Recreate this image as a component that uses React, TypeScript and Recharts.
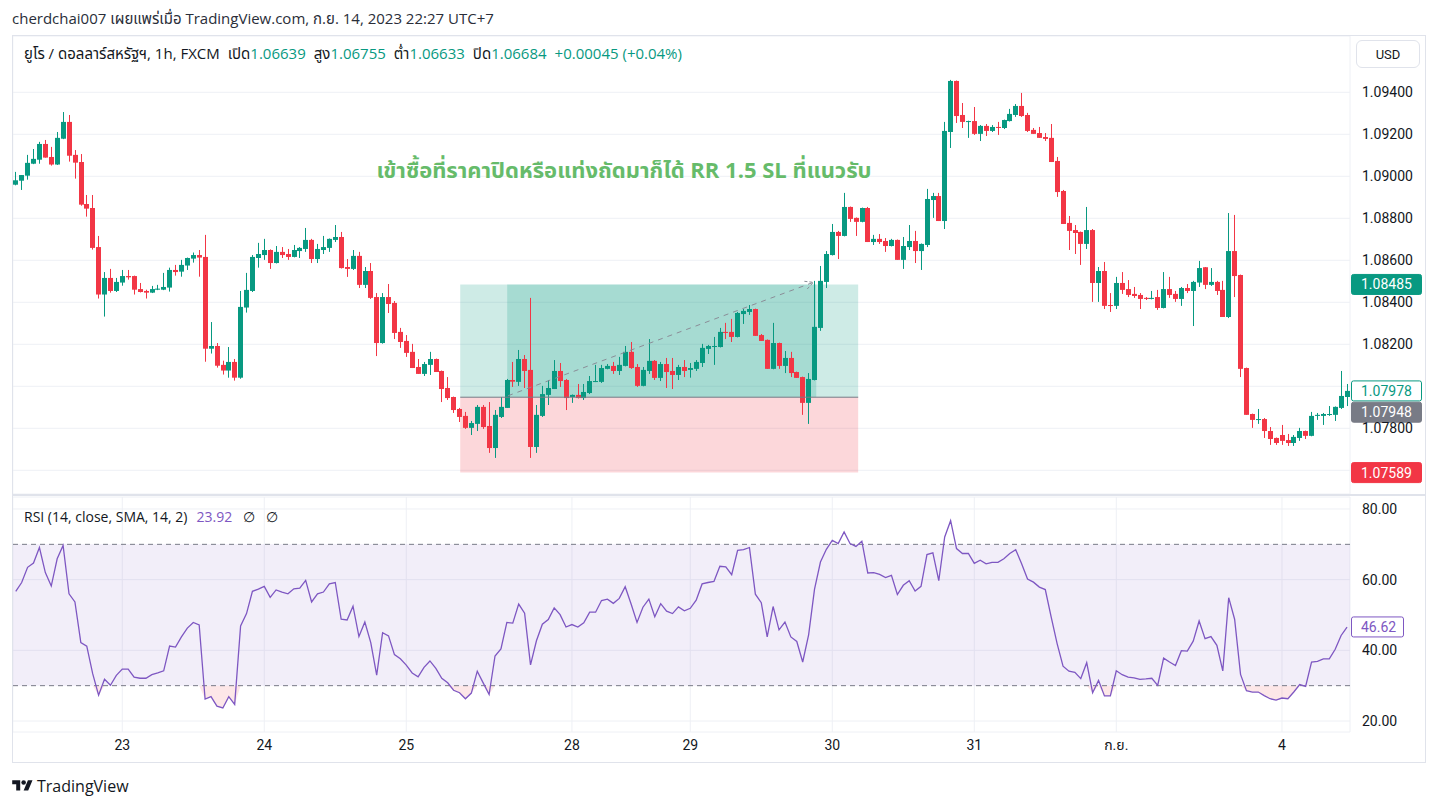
import React from 'react';
import { ComposedChart, Bar, Line, Area, XAxis, YAxis, ReferenceLine, ReferenceArea, CartesianGrid } from 'recharts';

const FONT = 'Roboto, "Noto Sans", "Noto Sans Thai", "DejaVu Sans", sans-serif';
const FONT_UI = '"Open Sans", Roboto, "Noto Sans", "Noto Sans Thai", sans-serif';
const GREEN = '#089981';
const RED = '#f23645';
const GRID = '#eef0f5';
const TEXT = '#131722';
const PURPLE = '#7e57c2';

const OPEN = [1.08960,1.08979,1.09003,1.09060,1.09079,1.09154,1.09092,1.09056,1.09179,1.09259,
1.09102,1.09068,1.08868,1.08849,1.08663,1.08437,1.08516,1.08454,1.08494,1.08525,
1.08525,1.08463,1.08454,1.08446,1.08460,1.08460,1.08470,1.08554,1.08546,1.08575,
1.08608,1.08625,1.08616,1.08179,1.08192,1.08102,1.08075,1.08116,1.08041,1.08375,
1.08454,1.08611,1.08625,1.08649,1.08587,1.08640,1.08630,1.08616,1.08644,1.08654,
1.08697,1.08606,1.08649,1.08659,1.08697,1.08711,1.08568,1.08559,1.08621,1.08483,
1.08549,1.08425,1.08206,1.08425,1.08397,1.08259,1.08216,1.08164,1.08092,1.08059,
1.08102,1.08130,1.08073,1.07992,1.07949,1.07892,1.07859,1.07802,1.07821,1.07902,
1.07811,1.07706,1.07854,1.07897,1.08030,1.08021,1.08130,1.08078,1.07711,1.07859,
1.07959,1.07987,1.08073,1.08030,1.07949,1.07959,1.07944,1.07968,1.08022,1.08021,
1.08083,1.08097,1.08073,1.08097,1.08164,1.08092,1.08002,1.08073,1.08121,1.08040,
1.08106,1.08073,1.08054,1.08092,1.08078,1.08083,1.08111,1.08178,1.08187,1.08187,
1.08259,1.08259,1.08235,1.08344,1.08354,1.08368,1.08244,1.08221,1.08083,1.08206,
1.08097,1.08135,1.08068,1.08044,1.07921,1.08030,1.08278,1.08497,1.08625,1.08735,
1.08716,1.08854,1.08802,1.08783,1.08849,1.08687,1.08702,1.08692,1.08668,1.08697,
1.08602,1.08663,1.08692,1.08644,1.08673,1.08887,1.08906,1.08787,1.09211,1.09454,
1.09292,1.09259,1.09263,1.09202,1.09240,1.09216,1.09235,1.09230,1.09263,1.09292,
1.09335,1.09292,1.09221,1.09206,1.09187,1.09183,1.09073,1.08930,1.08778,1.08744,
1.08735,1.08678,1.08744,1.08492,1.08549,1.08387,1.08383,1.08492,1.08463,1.08440,
1.08435,1.08421,1.08416,1.08425,1.08373,1.08463,1.08440,1.08416,1.08468,1.08454,
1.08494,1.08567,1.08483,1.08497,1.08459,1.08330,1.08644,1.08530,1.08087,1.07868,
1.07840,1.07844,1.07787,1.07754,1.07768,1.07744,1.07730,1.07754,1.07787,1.07764,
1.07859,1.07859,1.07864,1.07864,1.07897,1.07949];

const HIGH = [1.09021,1.09006,1.09102,1.09130,1.09164,1.09173,1.09140,1.09211,1.09306,1.09292,
1.09125,1.09106,1.08911,1.08911,1.08716,1.08544,1.08559,1.08516,1.08554,1.08554,
1.08527,1.08492,1.08460,1.08478,1.08483,1.08540,1.08565,1.08578,1.08602,1.08613,
1.08637,1.08649,1.08721,1.08306,1.08206,1.08122,1.08187,1.08130,1.08454,1.08540,
1.08625,1.08683,1.08702,1.08652,1.08668,1.08663,1.08654,1.08673,1.08663,1.08754,
1.08702,1.08678,1.08716,1.08704,1.08768,1.08735,1.08606,1.08649,1.08640,1.08568,
1.08587,1.08444,1.08444,1.08487,1.08406,1.08278,1.08244,1.08202,1.08130,1.08116,
1.08164,1.08132,1.08075,1.08044,1.07951,1.07897,1.07878,1.07835,1.07911,1.07911,
1.07925,1.07887,1.07949,1.08035,1.08116,1.08173,1.08149,1.08421,1.07911,1.08002,
1.08030,1.08125,1.08111,1.08035,1.07961,1.08011,1.08011,1.08049,1.08102,1.08102,
1.08106,1.08116,1.08140,1.08192,1.08211,1.08106,1.08092,1.08225,1.08125,1.08116,
1.08135,1.08135,1.08102,1.08125,1.08111,1.08125,1.08202,1.08197,1.08235,1.08278,
1.08302,1.08321,1.08354,1.08368,1.08387,1.08370,1.08249,1.08223,1.08302,1.08208,
1.08168,1.08164,1.08070,1.08046,1.08063,1.08502,1.08573,1.08644,1.08773,1.08740,
1.08921,1.08856,1.08804,1.08851,1.08854,1.08721,1.08725,1.08706,1.08702,1.08699,
1.08711,1.08768,1.08740,1.08680,1.08940,1.08921,1.08921,1.09259,1.09459,1.09456,
1.09349,1.09265,1.09330,1.09244,1.09249,1.09244,1.09259,1.09270,1.09321,1.09344,
1.09397,1.09302,1.09230,1.09235,1.09206,1.09249,1.09092,1.08935,1.08811,1.08768,
1.08737,1.08854,1.08749,1.08568,1.08592,1.08444,1.08521,1.08544,1.08506,1.08473,
1.08444,1.08425,1.08454,1.08459,1.08544,1.08521,1.08454,1.08473,1.08487,1.08502,
1.08597,1.08568,1.08563,1.08502,1.08502,1.08825,1.08816,1.08532,1.08089,1.07870,
1.07892,1.07849,1.07806,1.07756,1.07816,1.07773,1.07768,1.07802,1.07789,1.07878,
1.07873,1.07873,1.07906,1.07904,1.08073,1.08011];

const LOW = [1.08957,1.08935,1.08984,1.09058,1.09060,1.09089,1.09051,1.09054,1.09177,1.09070,
1.08989,1.08860,1.08808,1.08651,1.08418,1.08332,1.08446,1.08449,1.08479,1.08508,
1.08437,1.08447,1.08418,1.08444,1.08458,1.08458,1.08451,1.08527,1.08522,1.08554,
1.08589,1.08522,1.08117,1.08156,1.08089,1.08056,1.08041,1.08027,1.08036,1.08351,
1.08449,1.08565,1.08602,1.08559,1.08585,1.08611,1.08602,1.08614,1.08611,1.08640,
1.08587,1.08587,1.08630,1.08640,1.08687,1.08561,1.08521,1.08554,1.08468,1.08468,
1.08416,1.08144,1.08203,1.08349,1.08225,1.08183,1.08140,1.08087,1.08059,1.08049,
1.08054,1.08068,1.07925,1.07935,1.07873,1.07830,1.07797,1.07768,1.07787,1.07797,
1.07683,1.07659,1.07849,1.07897,1.07997,1.08002,1.07992,1.07659,1.07683,1.07854,
1.07911,1.07987,1.07997,1.07887,1.07921,1.07942,1.07935,1.07963,1.08020,1.08016,
1.08081,1.08059,1.08054,1.08095,1.08083,1.07997,1.08000,1.08059,1.08030,1.08025,
1.07992,1.07987,1.08030,1.08044,1.08041,1.08073,1.08092,1.08154,1.08102,1.08185,
1.08225,1.08211,1.08233,1.08297,1.08340,1.08240,1.08216,1.08083,1.08081,1.08083,
1.08063,1.08044,1.08040,1.07864,1.07821,1.08028,1.08264,1.08468,1.08623,1.08606,
1.08714,1.08783,1.08716,1.08781,1.08687,1.08673,1.08678,1.08640,1.08666,1.08602,
1.08559,1.08649,1.08587,1.08554,1.08663,1.08802,1.08787,1.08749,1.09135,1.09254,
1.09230,1.09183,1.09197,1.09168,1.09192,1.09211,1.09197,1.09225,1.09261,1.09283,
1.09283,1.09211,1.09202,1.09183,1.09168,1.09068,1.08902,1.08773,1.08649,1.08630,
1.08578,1.08654,1.08402,1.08402,1.08368,1.08354,1.08368,1.08440,1.08425,1.08421,
1.08368,1.08411,1.08414,1.08364,1.08371,1.08421,1.08402,1.08383,1.08444,1.08287,
1.08473,1.08463,1.08478,1.08435,1.08330,1.08325,1.08425,1.08044,1.07864,1.07802,
1.07821,1.07754,1.07721,1.07721,1.07721,1.07716,1.07716,1.07740,1.07749,1.07762,
1.07840,1.07816,1.07859,1.07835,1.07892,1.07906];

const CLOSE = [1.08981,1.09006,1.09064,1.09083,1.09154,1.09089,1.09056,1.09183,1.09259,1.09098,
1.09065,1.08865,1.08846,1.08659,1.08437,1.08516,1.08454,1.08497,1.08525,1.08519,
1.08460,1.08449,1.08446,1.08463,1.08465,1.08473,1.08554,1.08544,1.08578,1.08611,
1.08625,1.08613,1.08179,1.08192,1.08098,1.08075,1.08116,1.08041,1.08378,1.08459,
1.08616,1.08630,1.08649,1.08587,1.08640,1.08625,1.08616,1.08649,1.08659,1.08697,
1.08606,1.08654,1.08663,1.08702,1.08711,1.08563,1.08559,1.08621,1.08483,1.08549,
1.08421,1.08206,1.08425,1.08392,1.08254,1.08211,1.08159,1.08087,1.08059,1.08106,
1.08130,1.08068,1.07987,1.07944,1.07887,1.07854,1.07802,1.07825,1.07902,1.07806,
1.07706,1.07864,1.07902,1.08030,1.08022,1.08130,1.08073,1.07711,1.07864,1.07963,
1.07992,1.08073,1.08025,1.07944,1.07959,1.07944,1.07973,1.08025,1.08025,1.08087,
1.08097,1.08073,1.08102,1.08164,1.08087,1.08002,1.08078,1.08121,1.08040,1.08106,
1.08068,1.08054,1.08092,1.08073,1.08087,1.08116,1.08183,1.08192,1.08192,1.08259,
1.08254,1.08235,1.08349,1.08359,1.08368,1.08240,1.08216,1.08083,1.08206,1.08097,
1.08135,1.08063,1.08040,1.07921,1.08035,1.08283,1.08502,1.08630,1.08735,1.08716,
1.08854,1.08797,1.08783,1.08849,1.08687,1.08702,1.08687,1.08668,1.08697,1.08602,
1.08668,1.08692,1.08644,1.08678,1.08892,1.08906,1.08787,1.09216,1.09454,1.09287,
1.09259,1.09263,1.09202,1.09240,1.09216,1.09235,1.09232,1.09268,1.09297,1.09335,
1.09287,1.09216,1.09202,1.09183,1.09178,1.09068,1.08925,1.08773,1.08740,1.08730,
1.08678,1.08744,1.08492,1.08549,1.08383,1.08383,1.08492,1.08459,1.08435,1.08430,
1.08416,1.08416,1.08421,1.08373,1.08463,1.08435,1.08416,1.08468,1.08454,1.08497,
1.08563,1.08483,1.08497,1.08454,1.08330,1.08644,1.08525,1.08083,1.07864,1.07840,
1.07844,1.07787,1.07749,1.07730,1.07740,1.07730,1.07759,1.07787,1.07764,1.07859,
1.07864,1.07868,1.07868,1.07902,1.07954,1.07978];

const RSI = [56.7,59.2,63.5,64.7,69.1,62.0,58.2,65.9,69.7,56.0,
53.7,42.2,41.2,33.4,27.3,31.8,30.1,32.9,34.7,34.7,
32.4,32.1,32.1,33.1,33.6,34.2,41.2,40.9,43.8,46.3,
47.9,47.2,26.2,26.9,24.2,23.7,26.9,24.7,46.9,50.4,
56.7,57.3,58.1,55.0,57.1,56.5,56.0,57.4,57.6,59.8,
53.7,56.0,56.5,58.8,59.2,48.8,48.6,52.5,43.9,48.0,
42.2,33.0,45.0,44.1,38.8,37.6,35.8,33.6,32.5,35.2,
37.0,34.9,32.1,30.8,28.7,28.0,26.3,27.9,34.1,30.8,
27.5,38.4,40.4,47.9,47.7,53.1,50.5,35.9,42.7,47.4,
48.7,52.0,50.1,46.6,47.3,46.6,47.8,50.8,50.8,54.1,
54.5,53.3,54.7,58.0,53.1,47.9,52.2,54.5,49.5,53.2,
51.1,50.4,52.3,51.2,51.9,54.2,58.8,59.2,59.5,63.8,
63.6,61.4,68.3,68.5,69.1,55.9,53.5,43.8,52.4,45.8,
48.0,43.8,42.5,36.7,44.4,57.3,65.0,68.6,71.1,70.2,
73.5,70.2,69.4,70.9,61.9,62.0,61.5,60.6,61.2,55.8,
58.4,59.7,56.8,58.1,67.1,67.6,59.7,72.1,76.7,68.8,
67.4,67.4,64.6,65.5,64.5,64.9,64.9,65.9,67.4,68.5,
64.5,60.2,59.3,57.9,57.2,49.4,41.9,35.5,34.1,33.8,
32.0,36.5,28.0,31.5,27.1,27.1,34.2,33.1,32.4,32.2,
31.8,31.9,32.1,30.1,37.8,36.7,35.7,39.9,39.8,42.6,
48.3,43.3,43.9,41.4,34.2,54.9,48.8,33.2,28.6,28.2,
28.2,27.2,26.3,25.9,26.5,26.3,28.2,30.3,29.8,36.7,
36.9,37.6,37.6,40.3,44.2,46.6];

const TIME_TICKS = [18, 42, 66, 94, 114, 138, 162, 186, 214];
const TIME_LABELS = ['23', '24', '25', '28', '29', '30', '31', 'ก.ย.', '4'];
const PRICE_GRID = [1.076, 1.078, 1.080, 1.082, 1.084, 1.086, 1.088, 1.090, 1.092, 1.094];
const PRICE_LABELS = [1.078, 1.082, 1.084, 1.086, 1.088, 1.090, 1.092, 1.094];
const RSI_TICKS = [20, 40, 60, 80];
const RSI_BANDS = [30, 70];
const PRICE_DOMAIN = [1.074871, 1.096681];
const RSI_DOMAIN = [16.887, 83.396];
const X_DOMAIN = [-0.5, 225.5];

const ENTRY = 1.07948;
const TARGET = 1.08485;
const STOP = 1.07589;
const LAST = 1.07978;
const RSI_LAST = 46.62;
const POS_START = 75.12;
const POS_END = 142.38;
const FILL_START = 83.06;
const FILL_END = 135.29;
const ARROW_FROM = { x: 83.2, y: 1.07955 };
const ARROW_TO = { x: 134.8, y: 1.08495 };

const LEGEND_ITEMS = [
  { label: 'เปิด', value: '1.06639' },
  { label: 'สูง', value: '1.06755' },
  { label: 'ต่ำ', value: '1.06633' },
  { label: 'ปิด', value: '1.06684' },
];

const candles = OPEN.map((o, i) => ({ i, open: o, high: HIGH[i], low: LOW[i], close: CLOSE[i] }));
const rsiData = RSI.map((v, i) => ({ i, rsi: v, os: [Math.min(v, 30), 30] }));

const Candle = (props: any) => {
  const { x, y, width, height, payload } = props;
  if (x == null || y == null || !payload) return null;
  const { open, close, high, low } = payload;
  const top = Math.min(y, y + height);
  const h = Math.abs(height);
  const range = high - low || 1e-9;
  const py = (v: number) => top + ((high - v) / range) * h;
  const cx = Math.round(x + width / 2);
  const color = close >= open ? GREEN : RED;
  const bTop = py(Math.max(open, close));
  const bBot = py(Math.min(open, close));
  const bh = Math.max(1, bBot - bTop);
  return (
    <g>
      <rect x={cx} y={top} width={1} height={Math.max(1, h)} fill={color} />
      <rect x={cx - 2} y={bTop} width={5} height={bh} fill={color} />
    </g>
  );
};

const ArrowShape = (p: any) => {
  const { x1, y1, x2, y2 } = p;
  if (x1 == null) return null;
  const ang = Math.atan2(y2 - y1, x2 - x1);
  const len = 9;
  const a1 = ang + Math.PI * 0.85;
  const a2 = ang - Math.PI * 0.85;
  return (
    <g>
      <line x1={x1} y1={y1} x2={x2} y2={y2} stroke="#8a8d97" strokeWidth={1} strokeDasharray="5 5" />
      <path
        d={`M${x2 + len * Math.cos(a1)},${y2 + len * Math.sin(a1)} L${x2},${y2} L${x2 + len * Math.cos(a2)},${y2 + len * Math.sin(a2)}`}
        stroke="#8a8d97" strokeWidth={1} fill="none" strokeDasharray="3 2"
      />
    </g>
  );
};

const badge = (text: string, bg: string, fg: string, border: string, shift = 0, w = 70) => (props: any) => {
  const vb = props.viewBox || {};
  const right = (vb.x ?? 0) + (vb.width ?? 0);
  const y = (vb.y ?? 0) + shift;
  return (
    <g>
      <rect x={right + 1.5} y={y - 10} width={w} height={20} rx={2} fill={bg} stroke={border} strokeWidth={1} />
      <text x={right + 11} y={y} dy="0.36em" fontSize={14} fill={fg} fontFamily={FONT}>{text}</text>
    </g>
  );
};

const tickStyle = { fontSize: 14, fill: TEXT, fontFamily: FONT };

export default function App() {
  return (
    <div style={{ position: 'absolute', left: 0, top: 0, width: 1439, height: 807, background: '#fff', fontFamily: FONT, overflow: 'hidden', color: TEXT }}>
      <div style={{ position: 'absolute', left: 12, top: 8, fontSize: 15, fontFamily: FONT_UI, color: '#2a2e39', whiteSpace: 'nowrap' }}>
        cherdchai007 เผยแพร่เมื่อ TradingView.com, ก.ย. 14, 2023 22:27 UTC+7
      </div>

      <div style={{ position: 'absolute', left: 12, top: 35 }}>
        <ComposedChart width={1414} height={460} data={candles} margin={{ top: 1, right: 0, bottom: 0, left: 0.8 }}>
          <XAxis
            dataKey="i" type="number" domain={X_DOMAIN} ticks={TIME_TICKS} interval={0} allowDataOverflow
            height={1} tick={false} axisLine={false} tickLine={false}
          />
          <YAxis yAxisId="grid" type="number" domain={PRICE_DOMAIN} ticks={PRICE_GRID} interval={0} hide allowDataOverflow />
          <YAxis
            orientation="right" type="number" domain={PRICE_DOMAIN} allowDataOverflow
            ticks={PRICE_LABELS} interval={0} width={76} axisLine={false} tickLine={false}
            tickSize={0} tickMargin={12} tick={tickStyle} tickFormatter={(v: number) => v.toFixed(5)}
          />
          <CartesianGrid yAxisId="grid" stroke={GRID} strokeWidth={1} />
          <ReferenceArea x1={POS_START} x2={POS_END} y1={ENTRY} y2={TARGET} fill={GREEN} fillOpacity={0.2} stroke="none" />
          <ReferenceArea x1={FILL_START} x2={FILL_END} y1={ENTRY} y2={TARGET} fill={GREEN} fillOpacity={0.2} stroke="none" />
          <ReferenceArea x1={POS_START} x2={POS_END} y1={STOP} y2={ENTRY} fill={RED} fillOpacity={0.2} stroke="none" />
          <ReferenceLine segment={[{ x: POS_START, y: ENTRY }, { x: POS_END, y: ENTRY }]} stroke="#787b86" strokeWidth={1} />
          <Bar dataKey={(d: any) => [d.low, d.high]} shape={(p: any) => <Candle {...p} />} barSize={6} isAnimationActive={false} />
          <ReferenceLine segment={[ARROW_FROM, ARROW_TO]} shape={ArrowShape} />
          <ReferenceLine y={TARGET} stroke="none" label={badge(TARGET.toFixed(5), GREEN, '#ffffff', GREEN)} />
          <ReferenceLine y={LAST} stroke="none" label={badge(LAST.toFixed(5), '#ffffff', GREEN, GREEN)} />
          <ReferenceLine y={ENTRY} stroke="none" label={badge(ENTRY.toFixed(5), '#787b86', '#ffffff', '#787b86', 15)} />
          <ReferenceLine y={STOP} stroke="none" label={badge(STOP.toFixed(5), RED, '#ffffff', RED)} />
        </ComposedChart>
      </div>

      <div style={{ position: 'absolute', left: 12, top: 496 }}>
        <ComposedChart width={1414} height={267} data={rsiData} margin={{ top: 1, right: 0, bottom: 0, left: 0.8 }}>
          <XAxis
            dataKey="i" type="number" domain={X_DOMAIN} allowDataOverflow ticks={TIME_TICKS} interval={0}
            height={31} axisLine={false} tickLine={false} tickSize={0} tickMargin={8} tick={tickStyle}
            tickFormatter={(v: number) => TIME_LABELS[TIME_TICKS.indexOf(v)] ?? ''}
          />
          <YAxis
            orientation="right" type="number" domain={RSI_DOMAIN} allowDataOverflow ticks={RSI_TICKS}
            interval={0} width={76} axisLine={false} tickLine={false} tickSize={0} tickMargin={12}
            tick={tickStyle} tickFormatter={(v: number) => v.toFixed(2)}
          />
          <CartesianGrid stroke={GRID} strokeWidth={1} />
          <ReferenceArea y1={RSI_BANDS[0]} y2={RSI_BANDS[1]} fill={PURPLE} fillOpacity={0.1} stroke="none" />
          {RSI_BANDS.map((b) => <ReferenceLine key={'b' + b} y={b} stroke="#787b86" strokeDasharray="5 4" strokeWidth={1} />)}
          <Area dataKey="os" type="linear" stroke="none" fill={RED} fillOpacity={0.12} isAnimationActive={false} />
          <Line dataKey="rsi" type="linear" stroke={PURPLE} strokeWidth={1.3} dot={false} isAnimationActive={false} />
          <ReferenceLine y={RSI_LAST} stroke="none" label={badge(RSI_LAST.toFixed(2), '#ffffff', PURPLE, PURPLE, 0, 52)} />
        </ComposedChart>
      </div>

      <div style={{ position: 'absolute', left: 12, top: 35, width: 1414, height: 728, border: '1px solid #e0e3eb', boxSizing: 'border-box', pointerEvents: 'none' }} />
      <div style={{ position: 'absolute', left: 12, top: 494, width: 1414, height: 2, background: '#e0e3eb' }} />

      <div style={{ position: 'absolute', left: 24, top: 43, fontSize: 15, fontFamily: FONT_UI, whiteSpace: 'nowrap', color: TEXT }}>
        <span>ยูโร / ดอลลาร์สหรัฐฯ, 1h, FXCM</span>
        {LEGEND_ITEMS.map((it) => (
          <span key={it.label} style={{ marginLeft: 8 }}>
            {it.label}<span style={{ color: GREEN }}>{it.value}</span>
          </span>
        ))}
        <span style={{ marginLeft: 8, color: GREEN }}>+0.00045 (+0.04%)</span>
      </div>

      <div style={{ position: 'absolute', left: 1356, top: 40, width: 64, height: 28, border: '1px solid #e0e3eb', borderRadius: 6, boxSizing: 'border-box', fontSize: 13, display: 'flex', alignItems: 'center', justifyContent: 'center', color: TEXT, background: '#fff' }}>
        USD
      </div>

      <div style={{ position: 'absolute', left: 624, top: 154, transform: 'translateX(-50%)', fontSize: 22, fontWeight: 700, fontFamily: FONT_UI, color: '#66bb6a', whiteSpace: 'nowrap' }}>
        เข้าซื้อที่ราคาปิดหรือแท่งถัดมาก็ได้ RR 1.5 SL ที่แนวรับ
      </div>

      <div style={{ position: 'absolute', left: 24, top: 507, fontSize: 14, fontFamily: FONT_UI, whiteSpace: 'nowrap', color: TEXT }}>
        RSI (14, close, SMA, 14, 2)
        <span style={{ color: PURPLE, marginLeft: 9 }}>23.92</span>
        <span style={{ marginLeft: 11 }}>∅</span>
        <span style={{ marginLeft: 11 }}>∅</span>
      </div>

      <div style={{ position: 'absolute', left: 12, top: 775, display: 'flex', alignItems: 'center', whiteSpace: 'nowrap' }}>
        <svg width="21" height="16" viewBox="0 0 36 28">
          <path d="M14 22H7V11H0V4h14v18zM28 22h-8l7.5-18h8L28 22z" fill={TEXT} />
          <circle cx="20" cy="8" r="4" fill={TEXT} />
        </svg>
        <span style={{ marginLeft: 4, fontSize: 16, fontFamily: FONT_UI, color: TEXT }}>TradingView</span>
      </div>
    </div>
  );
}
